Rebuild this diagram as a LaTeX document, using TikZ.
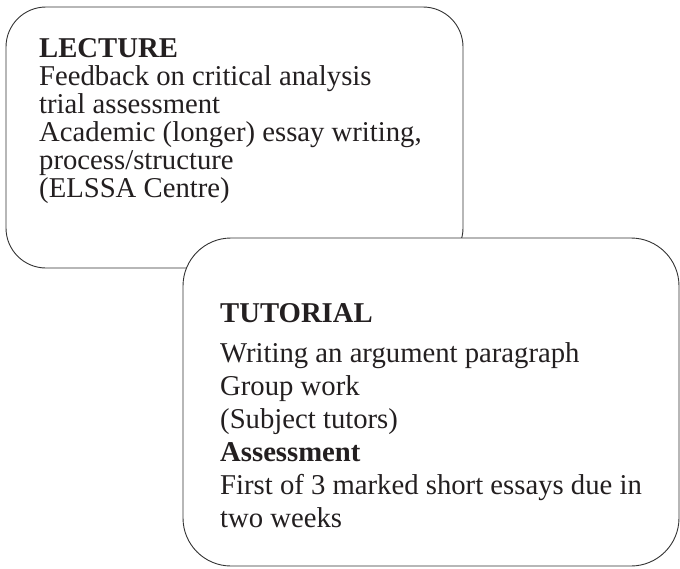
\documentclass[tikz,border=0pt]{standalone}
\usepackage{fontspec}
\setmainfont{Liberation Serif}
\definecolor{ink}{HTML}{231F20}
\definecolor{edge}{HTML}{333333}
\begin{document}
\begin{tikzpicture}[x=1pt,y=-1pt,
  boxshape/.style={draw=edge,line width=0.9pt,fill=white},
  txt/.style={anchor=base west,inner sep=0pt,text=ink,font=\fontsize{28.7}{30}\selectfont},
  hdr/.style={txt,font=\fontsize{28.7}{30}\selectfont\bfseries}]
\useasboundingbox (0,0) rectangle (680,568);
% Lecture box
\draw[boxshape,rounded corners=40pt] (6,7) rectangle (463,268);
\node[hdr] (lh) at (39,57) {LECTURE};
\node[txt] (l1) at (39,85) {Feedback on critical analysis};
\node[txt] (l2) at (39,113) {trial assessment};
\node[txt] (l3) at (39,141) {Academic (longer) essay writing,};
\node[txt] (l4) at (39,169) {process/structure};
\node[txt] (l5) at (39,197) {(ELSSA Centre)};
% Tutorial box
\draw[boxshape,rounded corners=48pt] (183,238) rectangle (679,566);
\node[hdr] (th) at (220,322) {TUTORIAL};
\node[txt] (t1) at (220,362) {Writing an argument paragraph};
\node[txt] (t2) at (220,395) {Group work};
\node[txt] (t3) at (220,428) {(Subject tutors)};
\node[hdr] (t4) at (220,461) {Assessment};
\node[txt] (t5) at (220,494) {First of 3 marked short essays due in};
\node[txt] (t6) at (220,527) {two weeks};
\end{tikzpicture}
\end{document}
